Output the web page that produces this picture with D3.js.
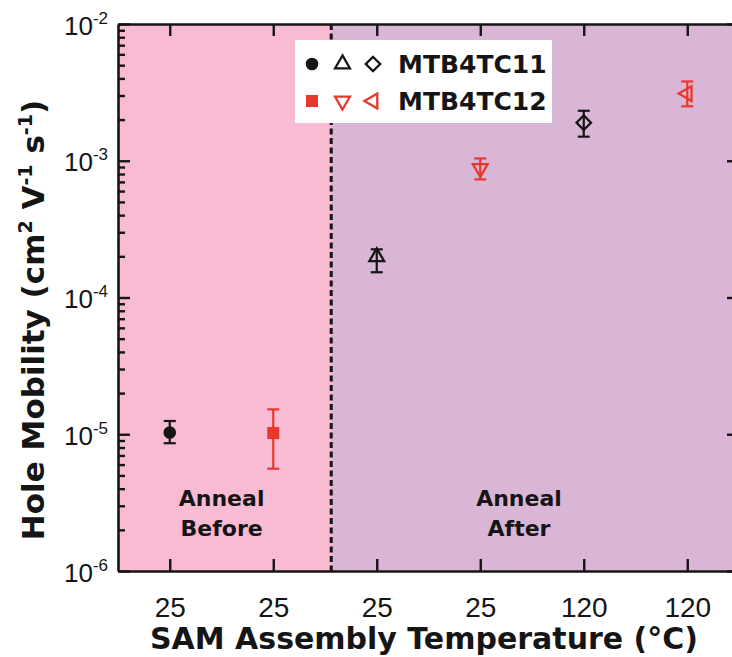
<!DOCTYPE html>
<html>
<head>
<meta charset="utf-8">
<script src="https://cdn.jsdelivr.net/npm/d3@7"></script>
<style>
  html, body { margin: 0; padding: 0; background: #ffffff; }
  svg { display: block; }
</style>
</head>
<body>
<svg id="chart" width="732" height="657"></svg>
<script>
// Hole mobility of MTB4TC11 / MTB4TC12 SAMs, before and after annealing
const categories = ["25", "25", "25", "25", "120", "120"];
const series = ["MTB4TC11", "MTB4TC12", "MTB4TC11", "MTB4TC12", "MTB4TC11", "MTB4TC12"];
const mobility = [1.03e-5, 1.02e-5, 1.98e-4, 8.8e-4, 1.9e-3, 3.1e-3];
const errLow   = [8.6e-6, 5.6e-6, 1.53e-4, 7.3e-4, 1.5e-3, 2.5e-3];
const errHigh  = [1.25e-5, 1.52e-5, 2.25e-4, 1.04e-3, 2.32e-3, 3.8e-3];
const yTickExponents = [-6, -5, -4, -3, -2];
const regionLabels = [["Anneal", "Before"], ["Anneal", "After"]];
const legendSeries = ["MTB4TC11", "MTB4TC12"];
const dividerAt = 1.56;   // boundary between the "before" and "after" groups, in category units

const svg = d3.select("#chart");
const M = { left: 118, right: 739, top: 24, bottom: 571 };

const x = d3.scaleLinear().domain([-0.5, categories.length - 0.5]).range([M.left, M.right]);
const y = d3.scaleLog().domain([1e-6, 1e-2]).range([M.bottom, M.top]);

const seriesColor = { MTB4TC11: "#151515", MTB4TC12: "#e8382d" };
// marker shape for each point, in the order of the data arrays
const markerShapes = ["circle", "square", "triUp", "triDown", "diamond", "triLeft"];

function markerPath(shape) {
  switch (shape) {
    case "circle":  return { d: d3.symbol(d3.symbolCircle, 125)(), rot: 0, filled: true };
    case "square":  return { d: d3.symbol(d3.symbolSquare, 144)(), rot: 0, filled: true };
    case "triUp":   return { d: d3.symbol(d3.symbolTriangle, 95)(), rot: 0, filled: false };
    case "triDown": return { d: d3.symbol(d3.symbolTriangle, 95)(), rot: 180, filled: false };
    case "triLeft": return { d: d3.symbol(d3.symbolTriangle, 95)(), rot: -90, filled: false };
    case "diamond": return { d: d3.symbol(d3.symbolSquare, 105)(), rot: 45, filled: false };
  }
}

function drawMarker(g, shape, color) {
  const m = markerPath(shape);
  g.append("path")
    .attr("d", m.d)
    .attr("transform", `rotate(${m.rot})`)
    .attr("fill", m.filled ? color : "none")
    .attr("stroke", color)
    .attr("stroke-width", m.filled ? 0 : 2.3)
    .attr("stroke-linejoin", "miter");
}

// background regions
svg.append("rect")
  .attr("x", x(-0.5)).attr("y", M.top)
  .attr("width", x(dividerAt) - x(-0.5)).attr("height", M.bottom - M.top)
  .attr("fill", "#f9bad4");
svg.append("rect")
  .attr("x", x(dividerAt)).attr("y", M.top)
  .attr("width", x(categories.length - 0.5) - x(dividerAt)).attr("height", M.bottom - M.top)
  .attr("fill", "#dab6d6");

// dashed divider
svg.append("line")
  .attr("x1", x(dividerAt)).attr("x2", x(dividerAt))
  .attr("y1", M.top).attr("y2", M.bottom)
  .attr("stroke", "#151515").attr("stroke-width", 3)
  .attr("stroke-dasharray", "6,3.5");

// axes
const idx = d3.range(categories.length);
const majorVals = yTickExponents.map(e => Math.pow(10, e));
const minorVals = [];
yTickExponents.slice(0, -1).forEach(e => {
  for (let k = 2; k <= 9; k++) minorVals.push(k * Math.pow(10, e));
});

function styleAxis(g) {
  g.selectAll(".domain").attr("stroke", "#151515").attr("stroke-width", 2.6);
  g.selectAll(".tick line").attr("stroke", "#151515").attr("stroke-width", 2.4);
  g.selectAll(".tick text").remove();
}

// bottom
const gBottom = svg.append("g").attr("transform", `translate(0,${M.bottom})`)
  .call(d3.axisBottom(x).tickValues(idx).tickSizeInner(-12).tickSizeOuter(0));
styleAxis(gBottom);
gBottom.selectAll(".tick").append("text")
  .attr("y", 46)
  .attr("text-anchor", "middle")
  .attr("font-family", "'Liberation Sans Narrow', 'Arial Narrow', sans-serif")
  .attr("font-size", 28)
  .attr("fill", "#151515")
  .text(i => categories[i]);

// top
const gTop = svg.append("g").attr("transform", `translate(0,${M.top})`)
  .call(d3.axisTop(x).tickValues(idx).tickSizeInner(-12).tickSizeOuter(0));
styleAxis(gTop);

// left
const gLeft = svg.append("g").attr("transform", `translate(${M.left},0)`)
  .call(d3.axisLeft(y).tickValues(majorVals).tickSizeInner(-12).tickSizeOuter(0));
styleAxis(gLeft);
const gLeftMinor = svg.append("g").attr("transform", `translate(${M.left},0)`)
  .call(d3.axisLeft(y).tickValues(minorVals).tickSizeInner(-7).tickSizeOuter(0));
styleAxis(gLeftMinor);
gLeftMinor.select(".domain").remove();

const labels = gLeft.selectAll(".tick").append("text")
  .attr("x", -10).attr("y", 10)
  .attr("text-anchor", "end")
  .attr("font-family", "'Liberation Sans Narrow', 'Arial Narrow', sans-serif")
  .attr("fill", "#151515");
labels.append("tspan").attr("font-size", 26).text("10");
labels.append("tspan").attr("font-size", 17).attr("dy", -11)
  .text(v => String(Math.round(Math.log10(v))));

// right
const gRight = svg.append("g").attr("transform", `translate(${M.right},0)`)
  .call(d3.axisRight(y).tickValues(majorVals).tickSizeInner(-12).tickSizeOuter(0));
styleAxis(gRight);
const gRightMinor = svg.append("g").attr("transform", `translate(${M.right},0)`)
  .call(d3.axisRight(y).tickValues(minorVals).tickSizeInner(-7).tickSizeOuter(0));
styleAxis(gRightMinor);
gRightMinor.select(".domain").remove();

// group labels
const labelCenters = [x(-0.5) + (x(dividerAt) - x(-0.5)) / 2 - 3, (x(3) + x(4)) / 2 - 13];
regionLabels.forEach((lines, gi) => {
  const t = svg.append("text")
    .attr("text-anchor", "middle")
    .attr("font-family", "'DejaVu Sans', Verdana, sans-serif")
    .attr("font-weight", "bold")
    .attr("font-size", 22)
    .attr("fill", "#151515");
  lines.forEach((ln, li) => {
    t.append("tspan").attr("x", labelCenters[gi]).attr("y", 506 + li * 30).text(ln);
  });
});

// error bars and markers
const cap = 6;
idx.forEach(i => {
  const color = seriesColor[series[i]];
  const cx = x(i);
  const g = svg.append("g");
  g.append("line")
    .attr("x1", cx).attr("x2", cx)
    .attr("y1", y(errLow[i])).attr("y2", y(errHigh[i]))
    .attr("stroke", color).attr("stroke-width", 2.2);
  [errLow[i], errHigh[i]].forEach(v => {
    g.append("line")
      .attr("x1", cx - cap).attr("x2", cx + cap)
      .attr("y1", y(v)).attr("y2", y(v))
      .attr("stroke", color).attr("stroke-width", 2.2);
  });
  const mg = g.append("g").attr("transform", `translate(${cx},${y(mobility[i])})`);
  drawMarker(mg, markerShapes[i], color);
});

// legend
const legend = svg.append("g");
legend.append("rect")
  .attr("x", 295).attr("y", 40).attr("width", 257).attr("height", 83)
  .attr("fill", "#ffffff");
legendSeries.forEach((s, r) => {
  const cy = 64 + r * 37;
  const shapes = idx.filter(i => series[i] === s).map(i => markerShapes[i]);
  shapes.forEach((shape, k) => {
    const mg = legend.append("g").attr("transform", `translate(${312 + k * 30.5},${cy})`);
    drawMarker(mg, shape, seriesColor[s]);
  });
  legend.append("text")
    .attr("x", 398).attr("y", cy + 9)
    .attr("font-family", "'DejaVu Sans', Verdana, sans-serif")
    .attr("font-weight", "bold")
    .attr("font-size", 25)
    .attr("fill", "#151515")
    .text(s);
});

// axis titles
svg.append("text")
  .attr("x", 424).attr("y", 649)
  .attr("text-anchor", "middle")
  .attr("font-family", "'DejaVu Sans', Verdana, sans-serif")
  .attr("font-weight", "bold")
  .attr("font-size", 30)
  .attr("fill", "#151515")
  .text("SAM Assembly Temperature (°C)");

const yt = svg.append("text")
  .attr("transform", "translate(44,320) rotate(-90)")
  .attr("text-anchor", "middle")
  .attr("font-family", "'DejaVu Sans', Verdana, sans-serif")
  .attr("font-weight", "bold")
  .attr("font-size", 31)
  .attr("fill", "#151515");
yt.append("tspan").text("Hole Mobility (cm");
yt.append("tspan").attr("font-size", 19).attr("dy", -12).text("2");
yt.append("tspan").attr("dy", 12).text(" V");
yt.append("tspan").attr("font-size", 19).attr("dy", -12).text("-1");
yt.append("tspan").attr("dy", 12).text(" s");
yt.append("tspan").attr("font-size", 19).attr("dy", -12).text("-1");
yt.append("tspan").attr("dy", 12).text(")");
</script>
</body>
</html>
